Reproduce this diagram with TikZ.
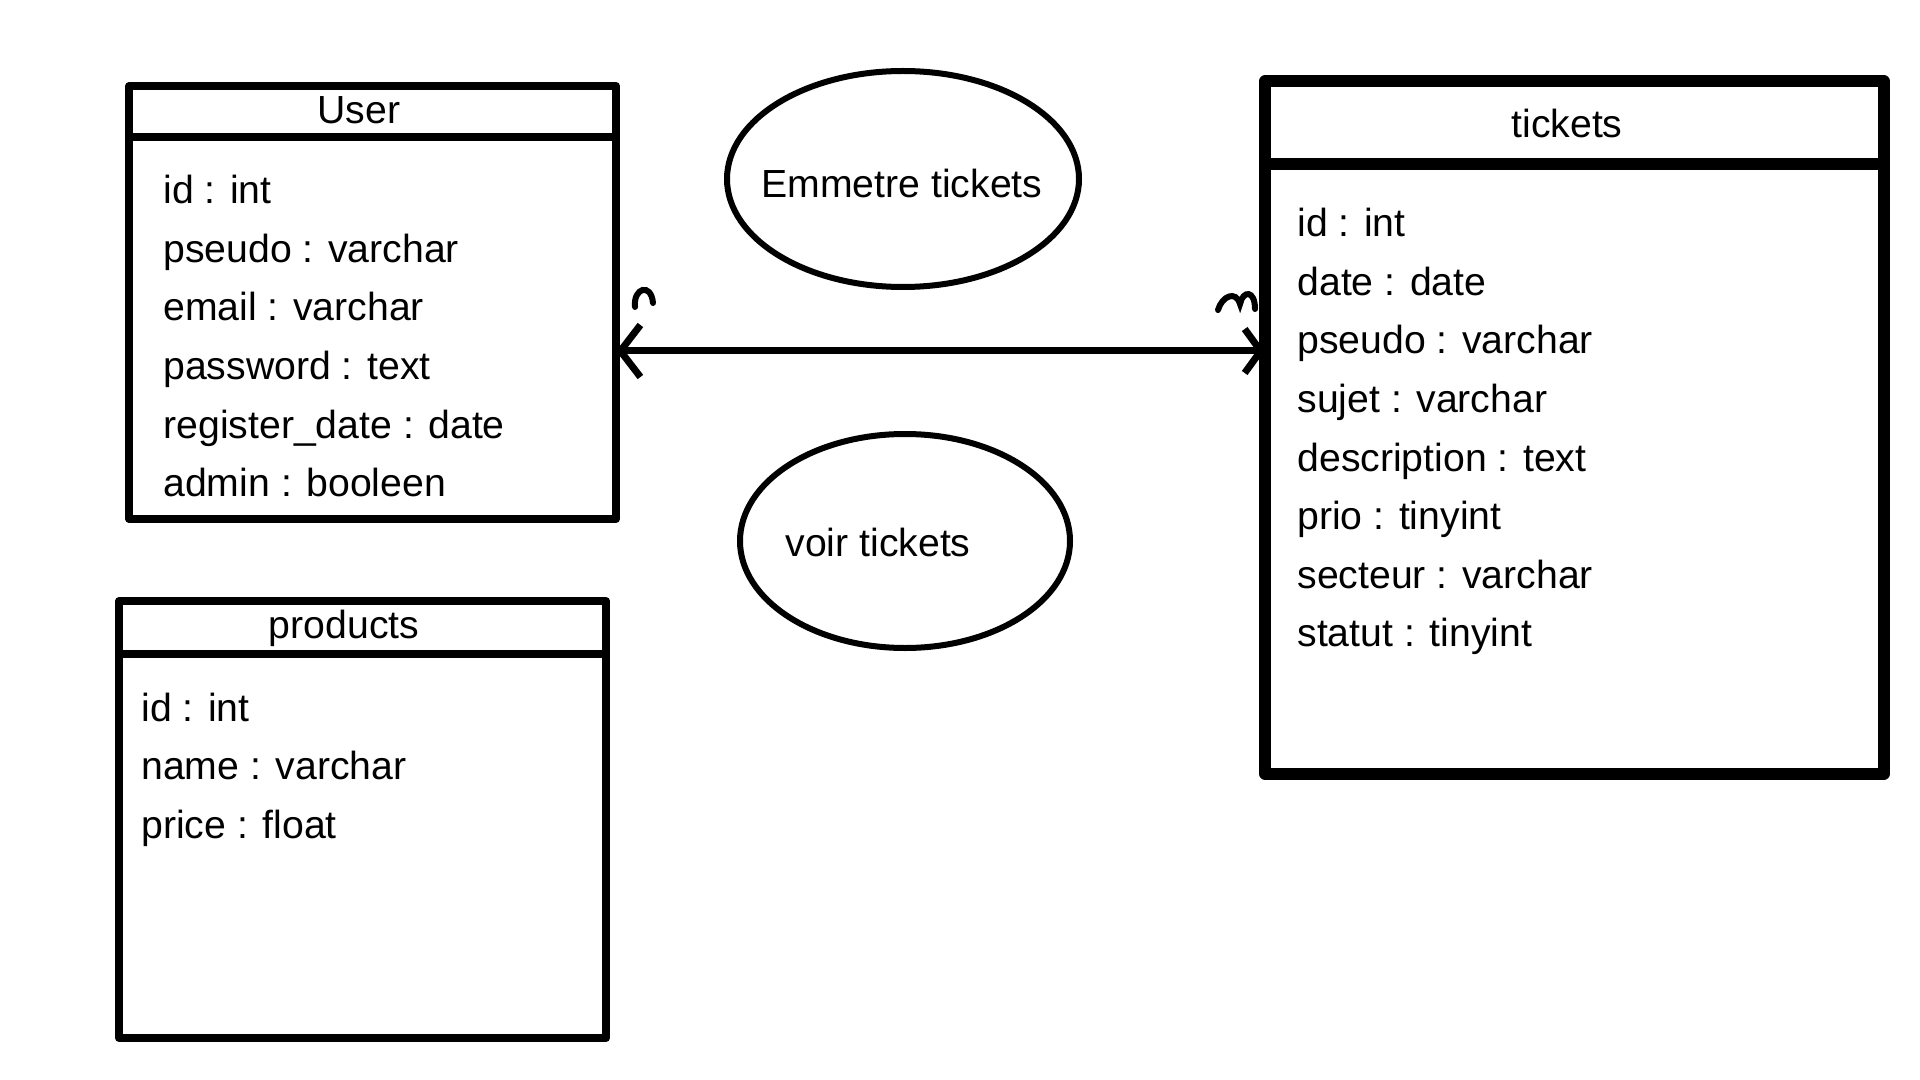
\documentclass[tikz,border=0pt]{standalone}
\usepackage{fontspec}
\setmainfont{Liberation Sans}
\usetikzlibrary{arrows.meta,shapes.geometric}

\begin{document}
\begin{tikzpicture}[x=0.5pt,y=-0.5pt,
  tbl/.style={draw=black,line width=4pt,line join=round,outer sep=0pt,inner sep=0pt},
  bigtbl/.style={tbl,line width=6pt},
  bubble/.style={draw=black,ellipse,line width=3pt,inner sep=0pt,outer sep=0pt},
  txt/.style={inner sep=0pt,font=\fontsize{19.6}{24}\selectfont},
  field/.style={txt,anchor=base west},
  title/.style={txt,anchor=base},
  link/.style={line width=3.5pt,line cap=round,line join=round},
  scribble/.style={line width=3pt,line cap=round}]

\path[fill=white] (0,0) rectangle (1920,1080);

% User
\node[tbl,minimum width=243.5pt,minimum height=216.5pt] (user) at (372.5,302.5) {};
\draw[tbl] ([yshift=-25.75pt]user.north west) -- ([yshift=-25.75pt]user.north east);
\node[title] (usertitle) at (359,124) {User};
\node[field] (uid) at (163,204) {id : int};
\node[field] (upseudo) at (163,262.5) {pseudo : varchar};
\node[field] (uemail) at (163,321) {email : varchar};
\node[field] (upassword) at (163,379.5) {password : text};
\node[field] (uregister) at (163,438) {register\_date : date};
\node[field] (uadmin) at (163,496.5) {admin : booleen};

% products
\node[tbl,minimum width=243.5pt,minimum height=218.5pt] (products) at (362.5,819.5) {};
\draw[tbl] ([yshift=-26.5pt]products.north west) -- ([yshift=-26.5pt]products.north east);
\node[title] (prodtitle) at (344,638) {products};
\node[field] (pid) at (141,721) {id : int};
\node[field] (pname) at (141,779.5) {name : varchar};
\node[field] (pprice) at (141,838) {price : float};

% tickets
\node[bigtbl,minimum width=309.5pt,minimum height=346pt] (tickets) at (1574.5,427.5) {};
\draw[bigtbl] ([yshift=-41.5pt]tickets.north west) -- ([yshift=-41.5pt]tickets.north east);
\node[title] (tickettitle) at (1567,138) {tickets};
\node[field] (tid) at (1297,237) {id : int};
\node[field] (tdate) at (1297,295.5) {date : date};
\node[field] (tpseudo) at (1297,354) {pseudo : varchar};
\node[field] (tsujet) at (1297,412.5) {sujet : varchar};
\node[field] (tdesc) at (1297,471) {description : text};
\node[field] (tprio) at (1297,529.5) {prio : tinyint};
\node[field] (tsecteur) at (1297,588) {secteur : varchar};
\node[field] (tstatut) at (1297,646.5) {statut : tinyint};

% actions
\node[bubble,minimum width=176pt,minimum height=108pt] (emit) at (903,179) {};
\node[title] (emittxt) at (902,198) {Emmetre tickets};
\node[bubble,minimum width=165pt,minimum height=107pt] (view) at (905,541) {};
\node[title] (viewtxt) at (878,556) {voir tickets};

% link
\coordinate (linky) at (0,351);
\draw[link,{Straight Barb[length=10pt,width=26pt]}-{Straight Barb[length=8pt,width=22pt]}] (user.east |- linky) -- (tickets.west |- linky);
\draw[scribble] (635,307) .. controls (633,288) and (651,282) .. (653,303);
\draw[scribble] (1218,310) .. controls (1222,296) and (1236,290) .. (1240,304) .. controls (1243,290) and (1255,290) .. (1255,309);
\end{tikzpicture}
\end{document}
